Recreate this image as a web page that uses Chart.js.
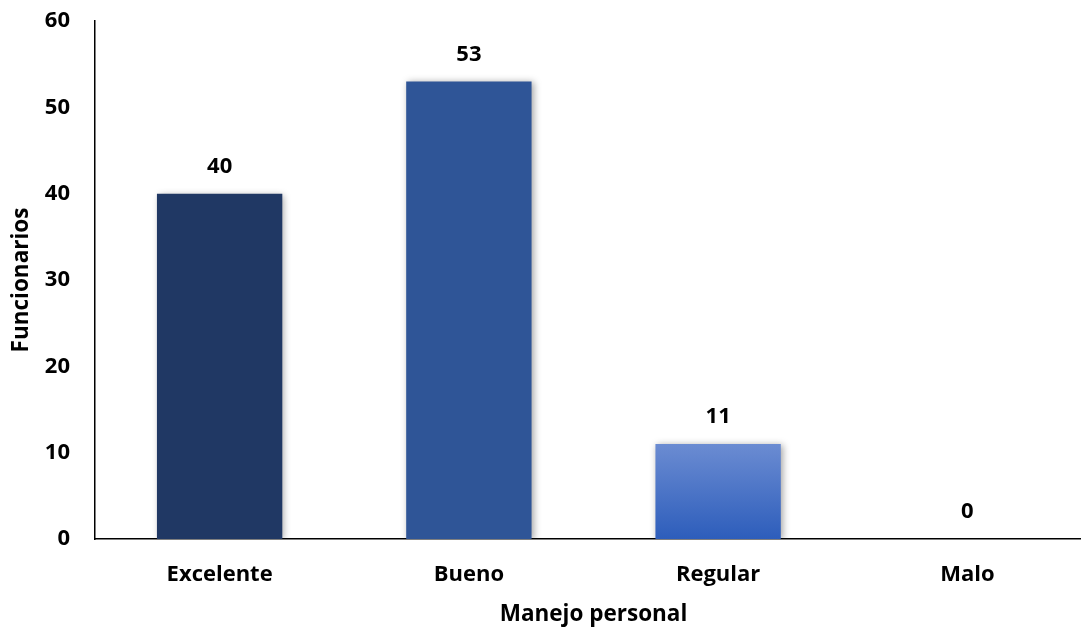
<!DOCTYPE html>
<html>
<head>
<meta charset="utf-8">
<script src="https://cdn.jsdelivr.net/npm/chart.js@4.4.1/dist/chart.umd.min.js"></script>
<style>
  html, body { margin: 0; padding: 0; background: #fff; overflow: hidden; }
  /* the plot runs a little past the right edge, so the canvas is clipped */
  #wrap { width: 1081px; height: 630px; overflow: hidden; }
  #myChart { display: block; }
</style>
</head>
<body>
<div id="wrap"><canvas id="myChart" width="1092" height="630"></canvas></div>
<script>
const categories = ['Excelente', 'Bueno', 'Regular', 'Malo'];
const funcionarios = [40, 53, 11, 0];
const yTicks = [0, 10, 20, 30, 40, 50, 60];

const FONT = '"Open Sans", Lato, sans-serif';

// Regular bar gets a light-to-dark vertical gradient
const barColor = (context) => {
    const solid = ['#203864', '#2F5597', '#4472C4', '#4472C4'];
    const chart = context.chart;
    if (context.dataIndex !== 2 || !chart.chartArea) return solid[context.dataIndex];
    const y = chart.scales.y;
    const g = chart.ctx.createLinearGradient(0, y.getPixelForValue(funcionarios[2]), 0, y.getPixelForValue(0));
    g.addColorStop(0, '#6B8CD2');
    g.addColorStop(1, '#2D5DBB');
    return g;
};

// soft shadow behind the bars
const barShadow = {
    id: 'barShadow',
    beforeDatasetDraw(chart) {
        const c = chart.ctx;
        c.save();
        c.shadowColor = 'rgba(0,0,0,0.35)';
        c.shadowBlur = 7;
        c.shadowOffsetX = 2;
        c.shadowOffsetY = 1;
    },
    afterDatasetDraw(chart) {
        chart.ctx.restore();
    }
};

// value written above each bar
const valueLabels = {
    id: 'valueLabels',
    afterDatasetsDraw(chart) {
        const c = chart.ctx;
        const meta = chart.getDatasetMeta(0);
        c.save();
        c.font = 'bold 22px ' + FONT;
        c.fillStyle = '#000';
        c.textAlign = 'center';
        c.textBaseline = 'middle';
        meta.data.forEach((bar, i) => {
            c.fillText(String(funcionarios[i]), bar.x, bar.y - 27);
        });
        c.restore();
    }
};

const ctx = document.getElementById('myChart').getContext('2d');
const myChart = new Chart(ctx, {
    type: 'bar',
    data: {
        labels: categories,
        datasets: [{
            label: 'Funcionarios',
            data: funcionarios,
            backgroundColor: barColor,
            borderWidth: 0,
            barPercentage: 0.503,
            categoryPercentage: 1
        }]
    },
    options: {
        responsive: false,
        animation: false,
        layout: { padding: 0 },
        plugins: {
            legend: { display: false },
            tooltip: { enabled: false }
        },
        scales: {
            x: {
                grid: { display: false, drawTicks: false },
                border: { display: true, color: '#000', width: 1.5 },
                ticks: { color: '#000', font: { family: FONT, size: 22, weight: 'bold' }, padding: 23 },
                title: {
                    display: true, text: 'Manejo personal', color: '#000',
                    font: { family: FONT, size: 22.5, weight: 'bold' }, padding: { top: 0, bottom: 2 }
                },
                afterFit: (scale) => { scale.height = 91; scale.paddingRight = 0; }
            },
            y: {
                min: 0,
                max: 60,
                afterBuildTicks: (axis) => { axis.ticks = yTicks.map(v => ({ value: v })); },
                grid: { display: false, drawTicks: false },
                border: { display: true, color: '#000', width: 1.5 },
                ticks: { color: '#000', font: { family: FONT, size: 22, weight: 'bold' }, padding: 25 },
                title: {
                    display: true, text: 'Funcionarios', color: '#000',
                    font: { family: FONT, size: 22.5, weight: 'bold' }, padding: { top: 8, bottom: 0 }
                },
                afterFit: (scale) => { scale.width = 95; scale.paddingTop = 21; }
            }
        }
    },
    plugins: [barShadow, valueLabels]
});
</script>
</body>
</html>
